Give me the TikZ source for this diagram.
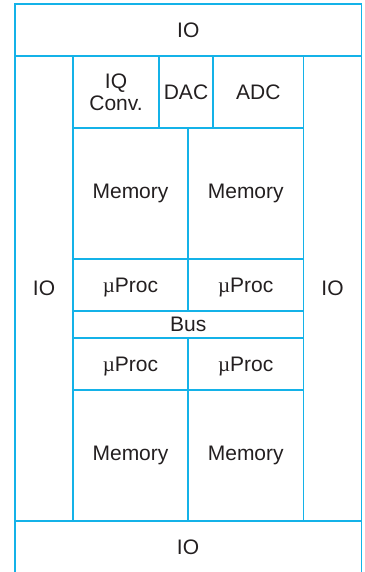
\documentclass[tikz,border=0pt]{standalone}
\usepackage{fontspec}
\setmainfont{Liberation Sans}
\newfontfamily\mufont{Liberation Serif}
\definecolor{linecol}{RGB}{20,178,232}
\definecolor{txtcol}{RGB}{35,31,32}
\tikzset{
  cell/.style={draw=linecol, line width=1.6pt, inner sep=0pt, outer sep=0pt,
    text=txtcol, font=\fontsize{21}{22}\selectfont, align=center}
}
\newcommand\mup{\smash{\mufont µ}Proc}
\newcommand\cellat[6]{\node[cell, minimum width={(#4-#2)*1pt}, minimum height={(#5-#3)*1pt}] (#1) at ({(#2+#4)/2},{(#3+#5)/2}) {#6};}
\begin{document}
\begin{tikzpicture}[x=1pt,y=-1pt]
\useasboundingbox (0,0) rectangle (364,572);
\clip (0,0) rectangle (364,572);
\cellat{iotop}{15}{4}{361.5}{56}{IO}
\cellat{ioleft}{15}{56}{73}{521}{IO}
\cellat{ioright}{303.5}{56}{361.5}{521}{IO}
\cellat{iobot}{15}{521}{361.5}{590}{}
\node[text=txtcol, font=\fontsize{21}{22}\selectfont] (iobottxt) at (188,547) {IO};
\cellat{iq}{73}{56}{159}{128}{IQ\\Conv.}
\cellat{dac}{159}{56}{213}{128}{DAC}
\cellat{adc}{213}{56}{303.5}{128}{ADC}
\cellat{mem1}{73}{128}{188}{259}{Memory}
\cellat{mem2}{188}{128}{303.5}{259}{Memory}
\cellat{p1}{73}{259}{188}{311}{\mup}
\cellat{p2}{188}{259}{303.5}{311}{\mup}
\cellat{bus}{73}{311}{303.5}{338}{Bus}
\cellat{p3}{73}{338}{188}{390}{\mup}
\cellat{p4}{188}{338}{303.5}{390}{\mup}
\cellat{mem3}{73}{390}{188}{521}{Memory}
\cellat{mem4}{188}{390}{303.5}{521}{Memory}
\end{tikzpicture}
\end{document}
